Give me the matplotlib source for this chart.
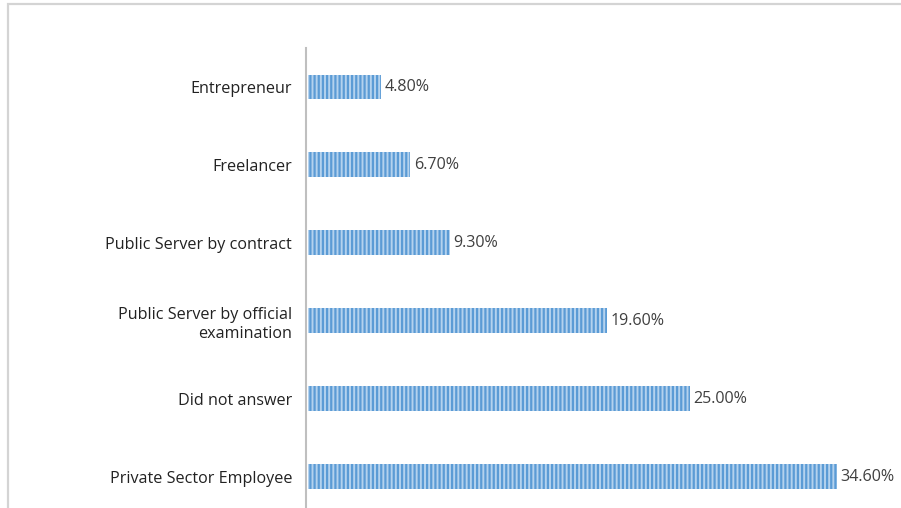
import matplotlib
matplotlib.use("Agg")
import matplotlib.pyplot as plt
from matplotlib.patches import Rectangle

categories = [
    "Private Sector Employee",
    "Did not answer",
    "Public Server by official\nexamination",
    "Public Server by contract",
    "Freelancer",
    "Entrepreneur",
]
values = [34.6, 25.0, 19.6, 9.3, 6.7, 4.8]

plt.rcParams["font.family"] = ["Open Sans", "DejaVu Sans"]
plt.rcParams["hatch.linewidth"] = 1.6

W, H = 901, 508
fig = plt.figure(figsize=(W / 100, H / 100), dpi=100)

# outer frame (top and left edges visible)
fig.add_artist(Rectangle((8 / W, -0.1), 1.2, (H - 4) / H + 0.1,
                         transform=fig.transFigure, fill=False,
                         edgecolor="#D4D4D4", linewidth=1.6))

ax = fig.add_axes([306 / W, 0, (890 - 306) / W, (H - 48) / H])
pos = list(range(len(categories)))
ax.barh(pos, values, height=0.32, left=0.1, color="#B4D2EE",
        edgecolor="#5B9BD5", linewidth=0, hatch="||||")

for p, v in zip(pos, values):
    ax.text(v + 0.1 + 0.25, p, f"{v:.2f}%", va="center", ha="left",
            fontsize=11.6, color="#404040")

ax.set_xlim(0, (890 - 306) / 15.29)
ax.set_ylim(-0.4, 5.5)
ax.set_yticks(pos)
ax.set_yticklabels(categories, fontsize=11.6, color="#222222",
                   ha="right", multialignment="right", linespacing=1.25)
ax.tick_params(axis="y", length=0, pad=10)
ax.set_xticks([])
for s in ["top", "right", "bottom"]:
    ax.spines[s].set_visible(False)
ax.spines["left"].set_color("#BFBFBF")
ax.spines["left"].set_linewidth(1.5)

fig.savefig("out.png", dpi=100)
